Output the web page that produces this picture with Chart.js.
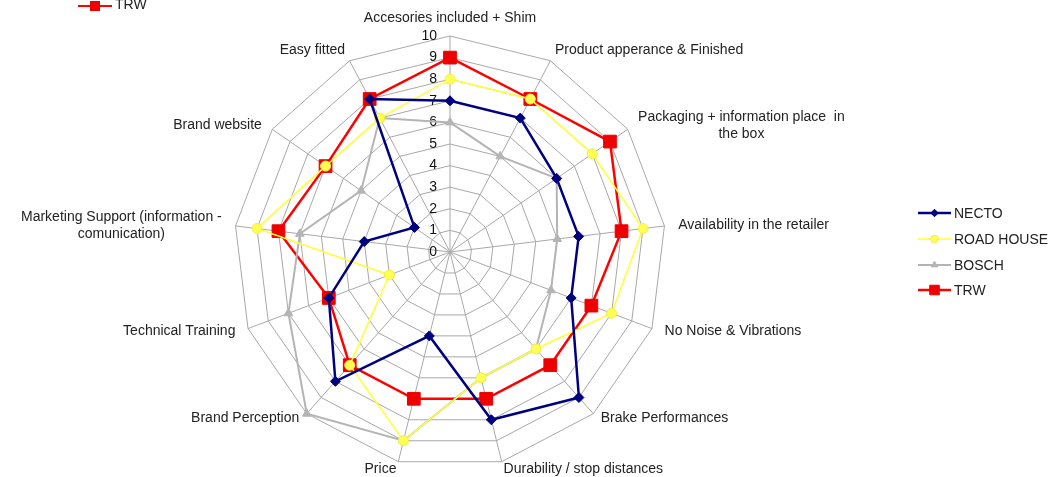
<!DOCTYPE html>
<html>
<head>
<meta charset="utf-8">
<script src="https://cdn.jsdelivr.net/npm/chart.js@4/dist/chart.umd.min.js"></script>
<style>
  html, body { margin: 0; padding: 0; background: #ffffff; }
  #wrap { position: relative; width: 1054px; height: 477px; }
</style>
</head>
<body>
<div id="wrap"><canvas id="c"></canvas></div>
<script>
const categories = [
  ["Accesories included + Shim"],
  ["Product apperance & Finished"],
  ["Packaging + information place  in", "the box"],
  ["Availability in the retailer"],
  ["No Noise & Vibrations"],
  ["Brake Performances"],
  ["Durability / stop distances"],
  ["Price"],
  ["Brand Perception"],
  ["Technical Training"],
  ["Marketing Support (information -", "comunication)"],
  ["Brand website"],
  ["Easy fitted"]
];
const seriesNames = ["NECTO", "ROAD HOUSE", "BOSCH", "TRW"];
const necto     = [7, 7, 6, 6, 6, 9, 8, 4, 8, 6, 4, 2, 8];
const roadHouse = [8, 8, 8, 9, 8, 6, 6, 9, 7, 3, 9, 7, 7];
const bosch     = [6, 5, 6, 5, 5, 6, 6, 9, 10, 8, 7, 5, 7];
const trw       = [9, 8, 9, 8, 7, 7, 7, 7, 7, 6, 8, 7, 8];
const tickValues = [0, 1, 2, 3, 4, 5, 6, 7, 8, 9, 10];

const FONT = '"Liberation Sans", Arial, sans-serif';

const labelPlugin = {
  id: 'customLabels',
  beforeDatasetsDraw(chart) {
    const s = chart.scales.r;
    const ctx = chart.ctx;
    ctx.save();
    ctx.font = '14px ' + FONT;
    ctx.fillStyle = '#111';
    ctx.textAlign = 'right';
    ctx.textBaseline = 'middle';
    tickValues.forEach(v => {
      const p = s.getPointPosition(0, s.getDistanceFromCenterForValue(v));
      ctx.fillText(String(v), p.x - 13, p.y);
    });
    ctx.restore();
  },
  afterDraw(chart) {
    const s = chart.scales.r;
    const ctx = chart.ctx;
    ctx.save();
    ctx.font = '14px ' + FONT;
    ctx.fillStyle = '#222';
    ctx.textBaseline = 'middle';
    categories.forEach((lines, i) => {
      const a = s.getIndexAngle(i);
      const sin = Math.sin(a), cos = Math.cos(a);
      const p = s.getPointPosition(i, s.drawingArea + 6);
      let x = p.x, y = p.y;
      if (sin > 0.05) { ctx.textAlign = 'left'; x += 8 * sin * sin; }
      else if (sin < -0.05) { ctx.textAlign = 'right'; x -= 8 * sin * sin; }
      else { ctx.textAlign = 'center'; }
      if (cos > 0) y -= 12 * Math.pow(cos, 6);
      else y += 2 * Math.pow(-cos, 6);
      const lh = 17;
      if (lines.length > 1) {
        const w = Math.max(...lines.map(t => ctx.measureText(t).width));
        let cx;
        if (ctx.textAlign === 'left') cx = x + w / 2;
        else if (ctx.textAlign === 'right') cx = x - w / 2;
        else cx = x;
        ctx.textAlign = 'center';
        const y0 = y - (lines.length - 1) * lh / 2;
        lines.forEach((t, k) => ctx.fillText(t, cx, y0 + k * lh));
      } else {
        ctx.fillText(lines[0], x, y);
      }
    });

    // legend on the right
    const legendY = [213, 239, 265, 290];
    chart.data.datasets.forEach((ds, k) => {
      const y = legendY[k];
      ctx.strokeStyle = ds.borderColor;
      ctx.lineWidth = Math.min(ds.borderWidth, 2.5);
      ctx.beginPath(); ctx.moveTo(918, y); ctx.lineTo(951, y); ctx.stroke();
      ctx.fillStyle = ds.pointBackgroundColor;
      ctx.strokeStyle = ds.pointBorderColor;
      ctx.lineWidth = 1;
      Chart.helpers.drawPoint(ctx, {
        pointStyle: ds.pointStyle, radius: ds.pointRadius * 0.75, borderWidth: 1, rotation: 0
      }, 934.5, y);
      ctx.fillStyle = '#222';
      ctx.textAlign = 'left';
      ctx.fillText(ds.label, 954, y + 1);
    });

    // cropped legend remnant at top-left
    const t = chart.data.datasets[3];
    ctx.strokeStyle = t.borderColor;
    ctx.lineWidth = 2;
    ctx.beginPath(); ctx.moveTo(78, 6); ctx.lineTo(112, 6); ctx.stroke();
    ctx.fillStyle = t.pointBackgroundColor;
    ctx.fillRect(90, 1, 10, 10);
    ctx.fillStyle = '#222';
    ctx.textAlign = 'left';
    ctx.fillText(t.label, 115, 5);
    ctx.restore();
  }
};

new Chart(document.getElementById('c'), {
  type: 'radar',
  data: {
    labels: categories,
    datasets: [
      {
        label: seriesNames[0], data: necto,
        borderColor: '#000080', backgroundColor: '#000080', borderWidth: 2.5,
        pointStyle: 'rectRot', pointRadius: 5, pointBackgroundColor: '#000080', pointBorderColor: '#000080', pointBorderWidth: 1
      },
      {
        label: seriesNames[1], data: roadHouse,
        borderColor: '#ffff33', backgroundColor: '#ffff33', borderWidth: 1.5,
        pointStyle: 'circle', pointRadius: 5, pointBackgroundColor: '#ffff55', pointBorderColor: '#eeee44', pointBorderWidth: 1
      },
      {
        label: seriesNames[2], data: bosch,
        borderColor: '#b4b4b4', backgroundColor: '#b4b4b4', borderWidth: 2,
        pointStyle: 'triangle', pointRadius: 5, pointBackgroundColor: '#b4b4b4', pointBorderColor: '#b4b4b4', pointBorderWidth: 1
      },
      {
        label: seriesNames[3], data: trw,
        borderColor: '#ff0000', backgroundColor: '#ff0000', borderWidth: 2.5,
        pointStyle: 'rect', pointRadius: 9, pointBackgroundColor: '#ee0000', pointBorderColor: '#ee0000', pointBorderWidth: 1
      }
    ]
  },
  options: {
    responsive: true,
    maintainAspectRatio: false,
    animation: false,
    devicePixelRatio: 1,
    layout: { padding: { top: 36, bottom: 9, left: 234, right: 388 } },
    elements: { line: { tension: 0, fill: false } },
    plugins: { legend: { display: false }, tooltip: { enabled: false } },
    scales: {
      r: {
        min: 0, max: 10,
        ticks: { display: false, stepSize: 1 },
        pointLabels: { display: false },
        grid: { color: '#a8a8a8', lineWidth: 1, circular: false },
        angleLines: { color: '#a8a8a8', lineWidth: 1 }
      }
    }
  },
  plugins: [labelPlugin]
});
</script>
</body>
</html>
